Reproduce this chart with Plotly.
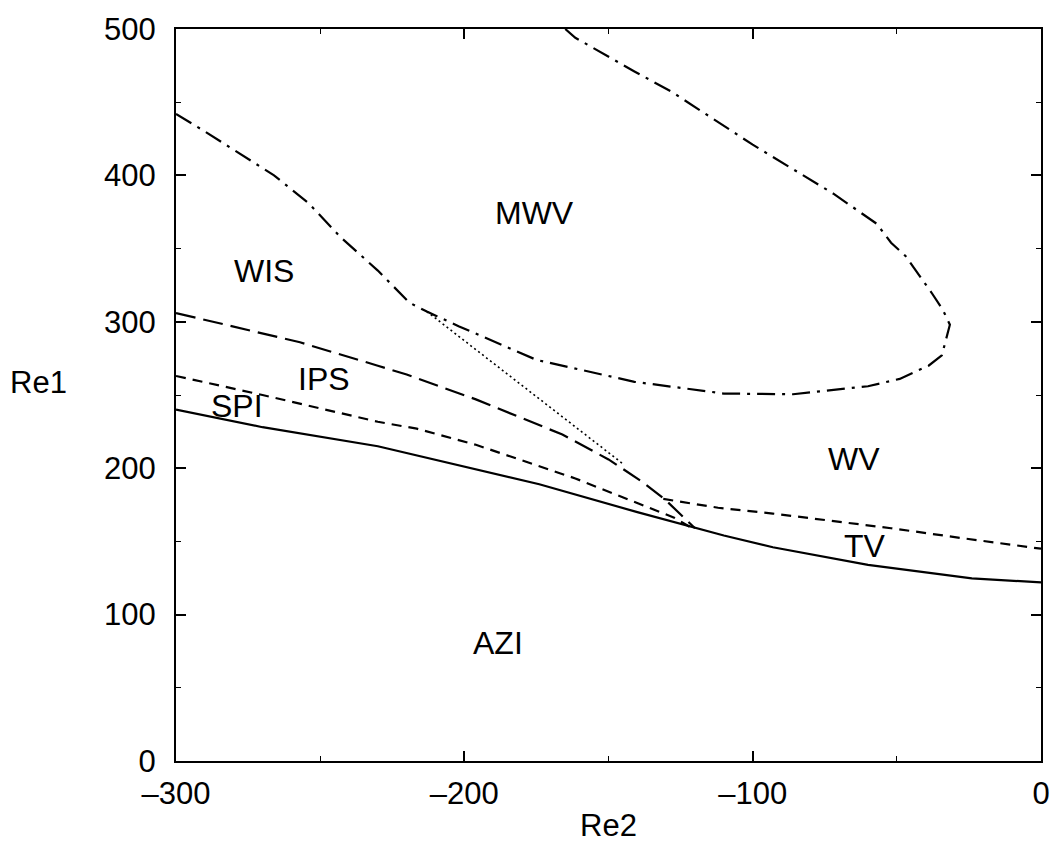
import plotly.graph_objects as go

# ---- data ----
# solid boundary (AZI upper limit)
azi_x = [-300, -270, -230, -208.6, -174, -140, -120, -110, -93, -60, -24, 0]
azi_y = [240, 228, 215, 205, 189, 170, 159, 154, 146, 134, 124.7, 122]

# short-dashed boundary SPI / IPS
spi_x = [-300, -270, -230, -216.5, -196, -161.5, -127, -121]
spi_y = [263, 250, 231.7, 227, 216, 193, 166, 159]

# short-dashed boundary TV / WV
tv_x = [-131, -112, -93, -52, -26.5, 0]
tv_y = [179, 173, 169, 159, 152, 145]

# long-dashed boundary IPS / WIS
ips_x = [-300, -257, -230, -220, -196, -166, -150, -138.5, -130.6, -120]
ips_y = [306, 286, 270, 264, 247, 223, 206, 191, 179, 159]

# dash-dot boundary WIS / MWV loop
mwv_x = [-300, -290, -266, -254, -243, -230, -219, -213, -202, -175, -141, -110,
         -86, -60, -49, -39, -34.4, -31.6, -34, -38, -47, -52, -57, -72, -100,
         -128, -141, -161.5, -165]
mwv_y = [442, 430, 400, 381, 358, 335, 313, 307, 297, 274, 259, 251,
         250.5, 256, 261, 270, 277, 298, 308, 320, 345, 354, 367, 387.5, 421,
         457, 471, 494, 500]

# dotted boundary
dot_x = [-213, -145]
dot_y = [307, 203]

# region labels
labels = ["MWV", "WIS", "IPS", "SPI", "WV", "TV", "AZI"]
label_x = [-175.6, -269.4, -248.8, -279, -65, -61.2, -188.3]
label_y = [374, 334.7, 261, 242.6, 206.6, 147, 80.6]

x_ticks = [-300, -200, -100, 0]
y_ticks = [0, 100, 200, 300, 400, 500]

FONT = "Liberation Sans, Arial, sans-serif"

fig = go.Figure()

def add(x, y, dash, w=2):
    fig.add_trace(go.Scatter(x=x, y=y, mode="lines",
                             line=dict(color="black", width=w, dash=dash),
                             showlegend=False, hoverinfo="skip"))

add(azi_x, azi_y, "solid", 2.2)
add(spi_x, spi_y, "10px,7px", 2.2)
add(tv_x, tv_y, "10px,7px", 2.2)
add(ips_x, ips_y, "20px,8px", 2.2)
add(mwv_x, mwv_y, "18px,7px,3px,7px", 2.2)
add(dot_x, dot_y, "2px,3px", 1.6)

for t, x, y in zip(labels, label_x, label_y):
    fig.add_annotation(x=x, y=y, xref="x", yref="y", text=t, showarrow=False,
                       xanchor="center", yanchor="middle",
                       font=dict(family=FONT, size=32, color="black"))

fig.add_annotation(x=(37 - 176) / 874, y=(761 - 380) / 737, xref="paper", yref="paper",
                   text="Re1", showarrow=False, xanchor="center", yanchor="middle",
                   font=dict(family=FONT, size=31, color="black"))
fig.add_annotation(x=0.5, y=(761 - 826) / 737, xref="paper", yref="paper", text="Re2",
                   showarrow=False, xanchor="center", yanchor="middle",
                   font=dict(family=FONT, size=31, color="black"))

axis_common = dict(showline=True, linecolor="black", linewidth=2, mirror="allticks",
                   ticks="inside", ticklen=10, tickwidth=1.5, tickcolor="black",
                   showgrid=False, zeroline=False,
                   tickfont=dict(family=FONT, size=31, color="black"),
                   minor=dict(ticks="inside", ticklen=5, tickwidth=1.2, tickcolor="black",
                              showgrid=False))

fig.update_xaxes(range=[-300, 0], tickvals=x_ticks,
                 ticktext=[str(v).replace("-", "\u2013") for v in x_ticks],
                 minor_dtick=50, minor_tick0=0, ticklabelstandoff=4, **axis_common)
fig.update_yaxes(range=[0, 500], tickvals=y_ticks, minor_dtick=50, minor_tick0=0,
                 ticklabelstandoff=12, **axis_common)

fig.update_layout(width=1062, height=851, autosize=False,
                  margin=dict(l=176, r=12, t=24, b=90),
                  paper_bgcolor="white", plot_bgcolor="white",
                  font=dict(family=FONT, color="black"))

fig.write_html("out.html")
